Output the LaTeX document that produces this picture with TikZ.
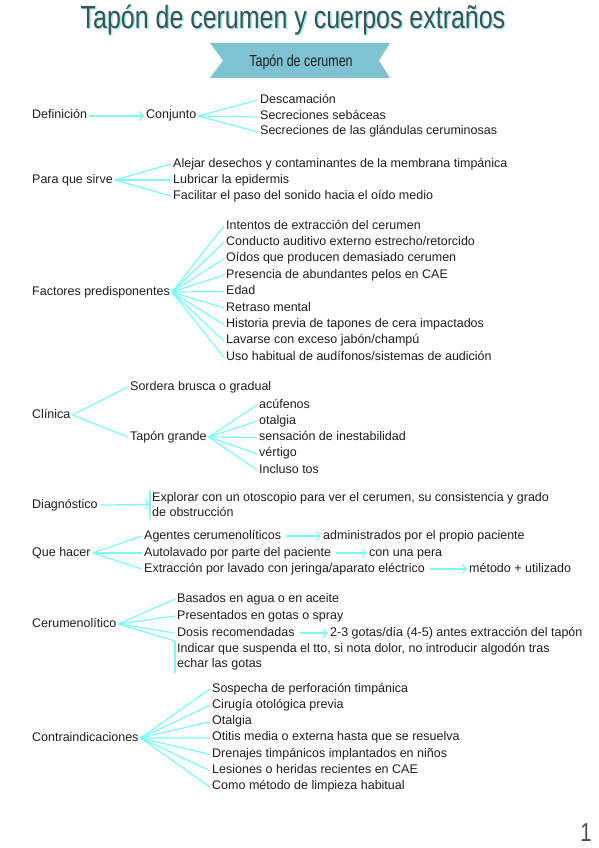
\documentclass[tikz,border=0pt]{standalone}
\usepackage{fontspec}
\setmainfont{Liberation Sans}
\newfontfamily\titlefont[FakeStretch=0.78]{Liberation Sans}
\usetikzlibrary{arrows.meta,calc}

\definecolor{aqua}{HTML}{7DF7F7}
\definecolor{cinta}{HTML}{7FC3D3}
\definecolor{tinta}{HTML}{1E1E1E}

\tikzset{
    txtbase/.style={anchor=west, inner sep=2pt, text=tinta,
        font=\fontsize{12.5}{15.5}\selectfont},
    txt/.style={txtbase, text height=9pt, text depth=3pt},
    txtdos/.style={txtbase, align=left},
    rama/.style={draw=aqua, line width=1.2pt},
    flecha/.style={rama, -{Straight Barb[length=4pt,width=9pt]}},
}

\begin{document}
\begin{tikzpicture}[x=1pt, y=-1pt]
        \useasboundingbox (0,0) rectangle (599,848);

        % titulo y cinta
        \node[font=\titlefont\fontsize{32}{32}\selectfont, text=aqua] at (294.5,21.5)
            {Tapón de cerumen y cuerpos extraños};
        \node[font=\titlefont\fontsize{32}{32}\selectfont, text=tinta!80] (titulo) at (293,20)
            {Tapón de cerumen y cuerpos extraños};
        \fill[cinta] (210,43) -- (390,43) -- (379,60.5) -- (390,78)
            -- (210,78) -- (223,60.5) -- cycle;
        \node[font=\titlefont\fontsize{16}{16}\selectfont, text=tinta] (cinta) at (301,62)
            {Tapón de cerumen};

        % definicion
        \node[txt] (def) at (30,116) {Definición};
        \node[txt] (conj) at (144,116) {Conjunto};
        \draw[flecha] (def.east) -- (conj.west);
        \node[txt] (d1) at (258,100) {Descamación};
        \node[txt] (d2) at (258,117) {Secreciones sebáceas};
        \node[txt] (d3) at (258,132) {Secreciones de las glándulas ceruminosas};
        \foreach \i in {1,2,3} {
            \draw[rama] (conj.east) -- (d\i.west);
        }

        % para que sirve
        \node[txt] (para) at (30,180) {Para que sirve};
        \node[txt] (p1) at (171,164) {Alejar desechos y contaminantes de la membrana timpánica};
        \node[txt] (p2) at (171,180) {Lubricar la epidermis};
        \node[txt] (p3) at (171,196) {Facilitar el paso del sonido hacia el oído medio};
        \foreach \i in {1,2,3} {
            \draw[rama] (para.east) -- (p\i.west);
        }

        % factores
        \node[txt] (fac) at (30,292) {Factores predisponentes};
        \foreach \t [count=\i] in {Intentos de extracción del cerumen,
                Conducto auditivo externo estrecho/retorcido,
                Oídos que producen demasiado cerumen,
                Presencia de abundantes pelos en CAE,
                Edad,
                Retraso mental,
                Historia previa de tapones de cera impactados,
                Lavarse con exceso jabón/champú,
                Uso habitual de audífonos/sistemas de audición} {
            \node[txt] (f\i) at (224,{209.6+16.4*\i}) {\t};
            \draw[rama] (fac.east) -- (f\i.west);
        }

        % clinica
        \node[txt] (clin) at (30,415) {Clínica};
        \node[txt] (s1) at (128,387) {Sordera brusca o gradual};
        \node[txt] (s2) at (128,437) {Tapón grande};
        \draw[rama] (clin.east) -- (s1.west);
        \draw[rama] (clin.east) -- (s2.west);
        \foreach \t [count=\i] in {acúfenos, otalgia, sensación de inestabilidad,
                vértigo, Incluso tos} {
            \node[txt] (t\i) at (257,{388.75+16.25*\i}) {\t};
            \draw[rama] (s2.east) -- (t\i.west);
        }

        % diagnostico
        \node[txt] (diag) at (30,505) {Diagnóstico};
        \node[txtdos] (dx) at (150,504.5) {Explorar con un otoscopio para ver el cerumen, su consistencia y grado\\de obstrucción};
        \draw[flecha] (diag.east) -- (dx.west);
        \draw[rama] (dx.north west) -- (dx.south west);

        % que hacer
        \node[txt] (que) at (30,553) {Que hacer};
        \node[txt] (q1) at (142,536) {Agentes cerumenolíticos};
        \node[txt] (q2) at (142,553) {Autolavado por parte del paciente};
        \node[txt] (q3) at (142,569) {Extracción por lavado con jeringa/aparato eléctrico};
        \foreach \i in {1,2,3} {
            \draw[rama] (que.east) -- (q\i.west);
        }
        \node[txt] (r1) at (321,536) {administrados por el propio paciente};
        \node[txt] (r2) at (367,553) {con una pera};
        \node[txt] (r3) at (467,569) {método + utilizado};
        \foreach \i in {1,2,3} {
            \draw[flecha] ($(q\i.east)+(3,0)$) -- (r\i.west);
        }

        % cerumenolitico
        \node[txt] (cer) at (30,624) {Cerumenolítico};
        \node[txt] (c1) at (175,599) {Basados en agua o en aceite};
        \node[txt] (c2) at (175,616) {Presentados en gotas o spray};
        \node[txt] (c3) at (175,633) {Dosis recomendadas};
        \node[txtdos, anchor=north west] (c4) at (175,641) {Indicar que suspenda el tto, si nota dolor, no introducir algodón tras\\echar las gotas};
        \foreach \i in {1,2,3} {
            \draw[rama] (cer.east) -- (c\i.west);
        }
        \draw[rama] (cer.east) -- (c4.north west);
        \draw[rama] (c4.north west) -- (c4.south west);
        \node[txt] (dosis) at (328,633) {2-3 gotas/día (4-5) antes extracción del tapón};
        \draw[flecha] ($(c3.east)+(3,0)$) -- (dosis.west);

        % contraindicaciones
        \node[txt] (contra) at (30,738) {Contraindicaciones};
        \foreach \t [count=\i] in {Sospecha de perforación timpánica,
                Cirugía otológica previa,
                Otalgia,
                Otitis media o externa hasta que se resuelva,
                Drenajes timpánicos implantados en niños,
                Lesiones o heridas recientes en CAE,
                Como método de limpieza habitual} {
            \node[txt] (k\i) at (210,{672.67+16.33*\i}) {\t};
            \draw[rama] (contra.east) -- (k\i.west);
        }

        \node[font=\titlefont\fontsize{26}{26}\selectfont, text=tinta!80] (pag) at (586,833) {1};
\end{tikzpicture}
\end{document}
